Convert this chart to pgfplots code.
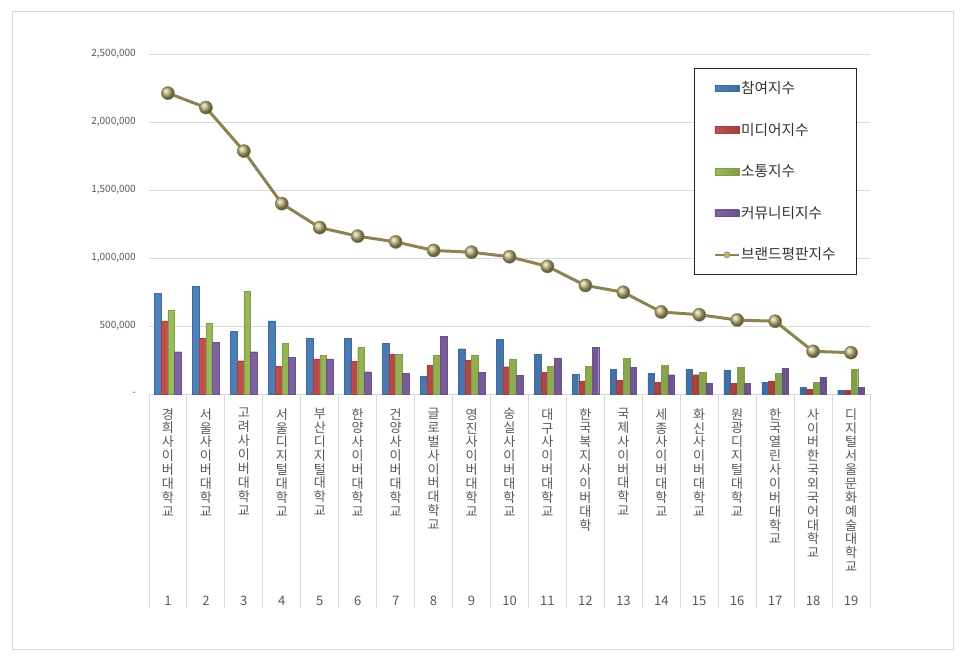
\documentclass[border=0pt]{standalone}
\usepackage{pgfplots}
\pgfplotsset{compat=1.18}
\usepackage{pgfplotstable}
\usepackage{fontspec}
\setmainfont{Noto Sans CJK KR}
\usetikzlibrary{plotmarks}

\definecolor{cA}{HTML}{4F81BD}\definecolor{cAd}{HTML}{3F6A9E}\definecolor{cAl}{HTML}{8FB0DB}
\definecolor{cB}{HTML}{C0504D}\definecolor{cBd}{HTML}{A03F3C}\definecolor{cBl}{HTML}{E08B89}
\definecolor{cC}{HTML}{9BBB59}\definecolor{cCd}{HTML}{809D48}\definecolor{cCl}{HTML}{C5DB93}
\definecolor{cD}{HTML}{8064A2}\definecolor{cDd}{HTML}{6A5288}\definecolor{cDl}{HTML}{AE97CB}
\definecolor{cL}{RGB}{140,132,80}
\definecolor{cM}{RGB}{190,180,120}
\definecolor{grid}{HTML}{D9D9D9}
\definecolor{lab}{HTML}{595959}

\pgfplotsset{
  barleg/.style={legend image code/.code={\path[##1, line width=0.4pt] (0pt,-2.5pt) rectangle (18pt,2.5pt);}},
  lineleg/.style={legend image code/.code={\draw[cL, line width=1.5pt] (0pt,0pt) -- (18pt,0pt); \draw[cL, fill=cM, line width=0.4pt] (9pt,0pt) circle (2.3pt);}},
}

\makeatletter
\newcommand\vlab[2]{\vbox to 147.75pt{\baselineskip=10.4pt\lineskiplimit=-100pt\lineskip=0pt
  \@tfor\vl@c:=#1\do{\hbox to 12pt{\hss\vl@c\hss}}\vfill\hbox to 12pt{\hss#2\hss}}}
\makeatother

\pgfplotstableread{
c  a    b    g    p    r
1  743000 539000 615000 313000 2213000
2  791000 409000 524000 382000 2107000
3  463000 247000 757000 313000 1787000
4  539000 206000 375000 274000 1401000
5  409000 260000 287000 260000 1225000
6  409000 243000 343000 166000 1162000
7  375000 296000 296000 152000 1120000
8  132000 213000 287000 424000 1057000
9  335000 252000 287000 159000 1044000
10 404000 203000 255000 137000 1011000
11 294000 164000 206000 267000 940000
12 147000 98000  206000 343000 800000
13 184000 105000 262000 199000 750000
14 152000 90000  213000 144000 605000
15 184000 144000 159000 81000  585000
16 179000 83000  199000 83000  546000
17 90000  98000  152000 191000 537000
18 49000  37000  90000  125000 316000
19 29000  29000  186000 49000  306000
}\data

\begin{document}
\begin{tikzpicture}[x=1pt,y=1pt]
\useasboundingbox (0,0) rectangle (724.5,497.25);
\fill[white] (0,0) rectangle (724.5,497.25);
\draw[grid, line width=0.75pt] (9,9.75) rectangle (714.75,488.25);
\begin{axis}[
  at={(111.75pt,201.5pt)}, anchor=south west,
  scale only axis, width=540.75pt, height=255.2pt,
  xmin=0.5, xmax=19.5, ymin=0, ymax=2500000,
  separate axis lines,
  axis x line*=bottom, axis y line*=left,
  x axis line style={draw=grid, line width=0.75pt},
  y axis line style={draw=none},
  ymajorgrids, major grid style={draw=grid, line width=0.75pt},
  major tick length=0pt,
  tick style={draw=grid, line width=0.75pt},
  ytick={0,500000,1000000,1500000,2000000,2500000},
  yticklabels={{-\hspace{3.75pt}},{500,000},{1,000,000},{1,500,000},{2,000,000},{2,500,000}},
  scaled y ticks=false,
  yticklabel style={font=\fontsize{7.5}{9}\selectfont, text=lab, anchor=east, inner sep=0pt, xshift=-9.75pt},
  xtick={1,...,19},
  xticklabels={
    {\vlab{경희사이버대학교}{1}},
    {\vlab{서울사이버대학교}{2}},
    {\vlab{고려사이버대학교}{3}},
    {\vlab{서울디지털대학교}{4}},
    {\vlab{부산디지털대학교}{5}},
    {\vlab{한양사이버대학교}{6}},
    {\vlab{건양사이버대학교}{7}},
    {\vlab{글로벌사이버대학교}{8}},
    {\vlab{영진사이버대학교}{9}},
    {\vlab{숭실사이버대학교}{10}},
    {\vlab{대구사이버대학교}{11}},
    {\vlab{한국복지사이버대학}{12}},
    {\vlab{국제사이버대학교}{13}},
    {\vlab{세종사이버대학교}{14}},
    {\vlab{화신사이버대학교}{15}},
    {\vlab{원광디지털대학교}{16}},
    {\vlab{한국열린사이버대학교}{17}},
    {\vlab{사이버한국외국어대학교}{18}},
    {\vlab{디지털서울문화예술대학교}{19}}},
  xticklabel style={font=\fontsize{9.8}{10.4}\selectfont, text=lab, anchor=north, inner sep=0pt, yshift=-10.3pt},
  extra x ticks={0.5,1.5,2.5,3.5,4.5,5.5,6.5,7.5,8.5,9.5,10.5,11.5,12.5,13.5,14.5,15.5,16.5,17.5,18.5,19.5},
  extra x tick labels={},
  extra x tick style={grid=none, major tick length=160.5pt, tick align=outside},
  clip=false,
  legend style={at={(0.756,0.959)}, anchor=north west, draw=black!85, line width=0.75pt, fill=white,
    font=\fontsize{11}{13}\selectfont, text=black!80, row sep=18.6pt, inner xsep=14.5pt, inner ysep=8.6pt,
    nodes={inner sep=1pt}},
  legend cell align=left,
]
\addplot[ybar, bar width=5pt, bar shift=-7.5pt, draw=cAd, line width=0.3pt, left color=cA, middle color=cAl, right color=cAd, barleg] table[x=c,y=a] {\data};
\addlegendentry{참여지수}
\addplot[ybar, bar width=5pt, bar shift=-2.5pt, draw=cBd, line width=0.3pt, left color=cB, middle color=cBl, right color=cBd, barleg] table[x=c,y=b] {\data};
\addlegendentry{미디어지수}
\addplot[ybar, bar width=5pt, bar shift=2.5pt, draw=cCd, line width=0.3pt, left color=cC, middle color=cCl, right color=cCd, barleg] table[x=c,y=g] {\data};
\addlegendentry{소통지수}
\addplot[ybar, bar width=5pt, bar shift=7.5pt, draw=cDd, line width=0.3pt, left color=cD, middle color=cDl, right color=cDd, barleg] table[x=c,y=p] {\data};
\addlegendentry{커뮤니티지수}
\addplot[sharp plot, draw=cL, line width=2.25pt, mark=ball, mark size=4.9pt, mark options={ball color=cM, line width=0.4pt}, lineleg]
  table[x=c,y=r] {\data};
\addlegendentry{브랜드평판지수}
\end{axis}
\end{tikzpicture}
\end{document}
